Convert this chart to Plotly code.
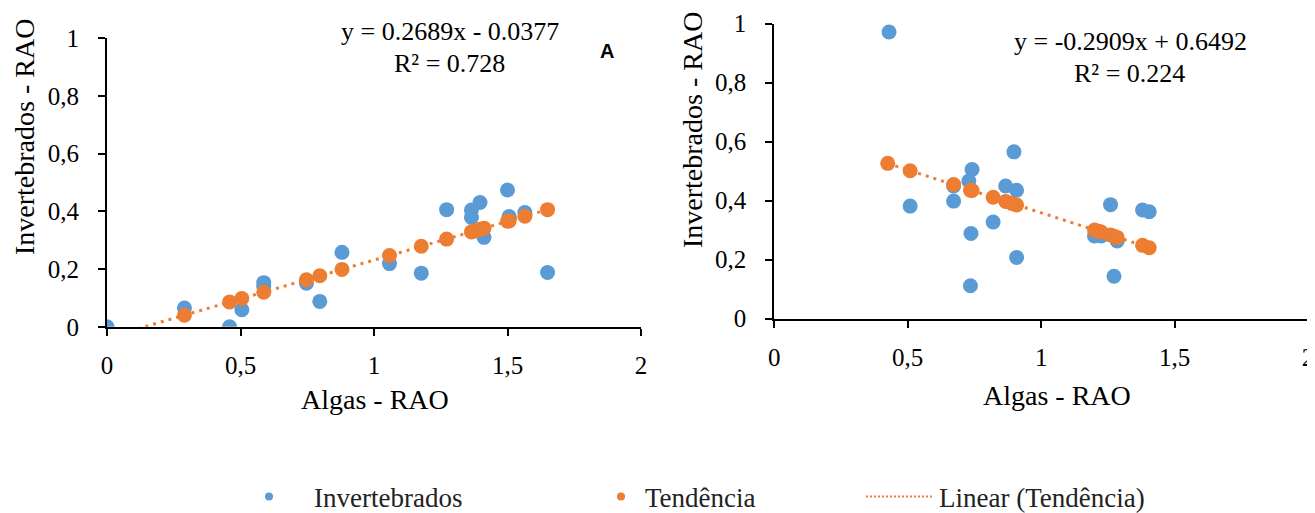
import plotly.graph_objects as go

# ---- Panel A data (left) ----
inv_a_x = [0.0, 0.29, 0.459, 0.505, 0.587, 0.587, 0.747, 0.797, 0.88, 1.058,
           1.177, 1.272, 1.365, 1.365, 1.397, 1.412, 1.50, 1.506, 1.565, 1.65]
inv_a_y = [0.0, 0.065, 0.0, 0.059, 0.153, 0.14, 0.151, 0.088, 0.258, 0.219,
           0.186, 0.406, 0.405, 0.379, 0.431, 0.31, 0.474, 0.382, 0.396, 0.188]
ten_a_x = [0.29, 0.459, 0.505, 0.587, 0.747, 0.797, 0.88, 1.058, 1.177, 1.272,
           1.365, 1.38, 1.397, 1.412, 1.50, 1.506, 1.565, 1.65]
ten_a_y = [0.040, 0.086, 0.098, 0.120, 0.163, 0.177, 0.199, 0.247, 0.279, 0.304,
           0.329, 0.333, 0.338, 0.342, 0.366, 0.367, 0.383, 0.406]
lin_a_x = [0.0, 1.65]
lin_a_y = [-0.0377, 0.406]

# ---- Panel B data (right) ----
inv_b_x = [0.43, 0.509, 0.672, 0.672, 0.741, 0.729, 0.737, 0.735, 0.82, 0.898,
           0.867, 0.908, 0.908, 1.26, 1.273, 1.2, 1.225, 1.285, 1.38, 1.405]
inv_b_y = [0.971, 0.381, 0.398, 0.449, 0.505, 0.466, 0.288, 0.111, 0.327, 0.565,
           0.449, 0.435, 0.207, 0.386, 0.143, 0.28, 0.28, 0.263, 0.368, 0.362]
ten_b_x = [0.425, 0.509, 0.672, 0.735, 0.741, 0.82, 0.867, 0.89, 0.908, 1.2,
           1.215, 1.225, 1.26, 1.273, 1.285, 1.38, 1.405]
ten_b_y = [0.526, 0.501, 0.454, 0.435, 0.434, 0.411, 0.397, 0.390, 0.385, 0.300,
           0.296, 0.293, 0.283, 0.279, 0.275, 0.248, 0.240]
lin_b_x = [0.425, 1.405]
lin_b_y = [0.5256, 0.2405]

x_ticks = [0, 0.5, 1, 1.5, 2]
x_tick_text = ["0", "0,5", "1", "1,5", "2"]
y_ticks = [0, 0.2, 0.4, 0.6, 0.8, 1]
y_tick_text = ["0", "0,2", "0,4", "0,6", "0,8", "1"]

BLUE = "#5B9BD5"
ORANGE = "#ED7D31"
SERIF = "Liberation Serif"
SANS = "Liberation Sans"

fig = go.Figure()

for xs, ys, xa, ya in [
    (inv_a_x, inv_a_y, "x", "y"),
    (inv_b_x, inv_b_y, "x2", "y2"),
]:
    fig.add_trace(go.Scatter(x=xs, y=ys, mode="markers", xaxis=xa, yaxis=ya,
                             marker=dict(color=BLUE, size=15), showlegend=False))

fig.add_trace(go.Scatter(x=lin_a_x, y=lin_a_y, mode="lines", xaxis="x", yaxis="y",
                         line=dict(color=ORANGE, width=3, dash="3px,5px"), showlegend=False))
fig.add_trace(go.Scatter(x=lin_b_x, y=lin_b_y, mode="lines", xaxis="x2", yaxis="y2",
                         line=dict(color=ORANGE, width=3, dash="3px,5px"), showlegend=False))
fig.add_trace(go.Scatter(x=ten_a_x, y=ten_a_y, mode="markers", xaxis="x", yaxis="y",
                         marker=dict(color=ORANGE, size=15), showlegend=False))
fig.add_trace(go.Scatter(x=ten_b_x, y=ten_b_y, mode="markers", xaxis="x2", yaxis="y2",
                         marker=dict(color=ORANGE, size=15), showlegend=False))

# legend entries
fig.add_trace(go.Scatter(x=[None], y=[None], mode="markers", name="Invertebrados",
                         marker=dict(color=BLUE, size=8), legend="legend"))
fig.add_trace(go.Scatter(x=[None], y=[None], mode="markers", name="Tendência",
                         marker=dict(color=ORANGE, size=8), legend="legend2"))
fig.add_trace(go.Scatter(x=[None], y=[None], mode="lines", name="Linear (Tendência)",
                         line=dict(color=ORANGE, width=2, dash="2px,2px"), legend="legend3"))

# the page body adds an 8px offset; the figure is sized to fit the window
OFF = 8
W, H = 1315 - OFF, 513 - OFF

def px_x(p):
    return (p - OFF) / W

def px_y(p):
    return 1 - (p - OFF) / H

axis_common = dict(showline=True, linecolor="black", linewidth=2, ticks="outside",
                   ticklen=7, tickwidth=2, tickcolor="black", showgrid=False,
                   zeroline=False, automargin=False,
                   tickfont=dict(family=SERIF, size=25, color="black"))

fig.update_layout(
    template="none",
    width=W, height=H,
    margin=dict(l=0, r=0, t=0, b=0, autoexpand=False),
    plot_bgcolor="white", paper_bgcolor="white",
    xaxis=dict(domain=[px_x(107), px_x(641)], range=[0, 2], tickvals=x_ticks,
               ticktext=x_tick_text, anchor="y", ticklabelstandoff=8, **axis_common),
    yaxis=dict(domain=[px_y(326.8), px_y(38.3)], range=[0, 1], tickvals=y_ticks,
               ticktext=y_tick_text, anchor="x", ticklabelstandoff=14, **axis_common),
    xaxis2=dict(domain=[px_x(774.3), px_x(1308)], range=[0, 2], tickvals=x_ticks,
                ticktext=x_tick_text, anchor="y2", ticklabelstandoff=8, **axis_common),
    yaxis2=dict(domain=[px_y(318.5), px_y(23.5)], range=[0, 1], tickvals=y_ticks,
                ticktext=y_tick_text, anchor="x2", ticklabelstandoff=14, **axis_common),
    showlegend=True,
)

leg_common = dict(orientation="h", xanchor="left", yanchor="middle", y=px_y(497),
                  bgcolor="rgba(0,0,0,0)", borderwidth=0,
                  font=dict(family=SERIF, size=27, color="#222"))
fig.update_layout(
    legend=dict(x=px_x(224), itemwidth=80, **leg_common),
    legend2=dict(x=px_x(597), itemwidth=38, **leg_common),
    legend3=dict(x=px_x(861), itemwidth=68, **leg_common),
)

annotations = [
    dict(text="y = 0.2689x - 0.0377", x=px_x(450), y=px_y(31.7)),
    dict(text="R² = 0.728", x=px_x(449), y=px_y(63.3)),
    dict(text="y = -0.2909x + 0.6492", x=px_x(1130), y=px_y(41.7)),
    dict(text="R² = 0.224", x=px_x(1129), y=px_y(73.3)),
]
for a in annotations:
    fig.add_annotation(xref="paper", yref="paper", xanchor="center", yanchor="middle",
                       showarrow=False, font=dict(family=SERIF, size=26, color="black"), **a)

fig.add_annotation(text="<b>A</b>", xref="paper", yref="paper", x=px_x(607), y=px_y(51),
                   xanchor="center", yanchor="middle", showarrow=False,
                   font=dict(family=SANS, size=20, color="black"))

# axis titles
for txt, x, y, ang in [
    ("Algas - RAO", 375, 399, 0),
    ("Algas - RAO", 1057, 395, 0),
    ("Invertebrados - RAO", 24, 137, -90),
    ("Invertebrados - RAO", 692, 130, -90),
]:
    fig.add_annotation(text=txt, xref="paper", yref="paper", x=px_x(x), y=px_y(y),
                       xanchor="center", yanchor="middle", showarrow=False, textangle=ang,
                       font=dict(family=SERIF, size=28, color="black"))

fig.write_html("out.html")
